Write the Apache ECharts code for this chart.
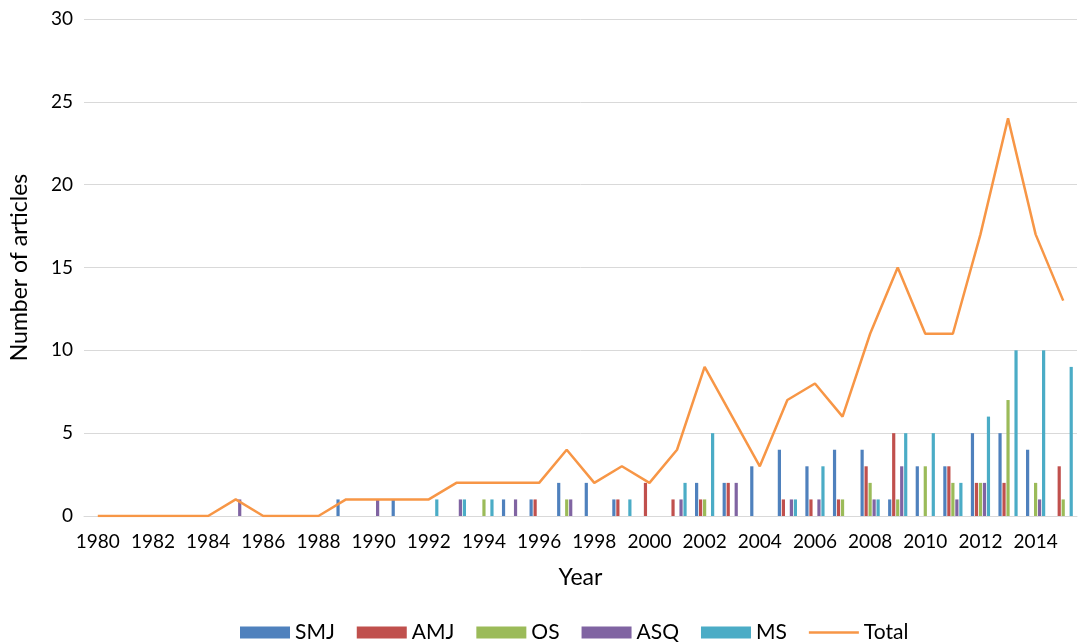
<!DOCTYPE html>
<html>
<head>
<meta charset="utf-8">
<title>Number of articles by year</title>
<script src="https://cdn.jsdelivr.net/npm/echarts@6/dist/echarts.min.js"></script>
<style>
  html, body { margin: 0; padding: 0; background: #fff; }
  #chart { width: 1079px; height: 643px; }
</style>
</head>
<body>
<div id="chart"></div>
<script>
// Publication years, 1980-2015
const years = [];
for (let y = 1980; y <= 2015; y++) years.push(String(y));

// Articles per journal and year
const smj = [0,0,0,0,0,0,0,0,0,1,0,1,0,0,0,1,1,2,2,1,0,0,2,2,3,4,3,4,4,1,3,3,5,5,4,0];
const amj = [0,0,0,0,0,0,0,0,0,0,0,0,0,0,0,0,1,0,0,1,2,1,1,2,0,1,1,1,3,5,0,3,2,2,0,3];
const os  = [0,0,0,0,0,0,0,0,0,0,0,0,0,0,1,0,0,1,0,0,0,0,1,0,0,0,0,1,2,1,3,2,2,7,2,1];
const asq = [0,0,0,0,0,1,0,0,0,0,1,0,0,1,0,1,0,1,0,0,0,1,0,2,0,1,1,0,1,3,0,1,2,0,1,0];
const ms  = [0,0,0,0,0,0,0,0,0,0,0,0,1,1,1,0,0,0,0,1,0,2,5,0,0,1,3,0,1,5,5,2,6,10,10,9];
const total = [0,0,0,0,0,1,0,0,0,1,1,1,1,2,2,2,2,4,2,3,2,4,9,6,3,7,8,6,11,15,11,11,17,24,17,13];

const FONT = 'Lato, "Open Sans", sans-serif';
const chart = echarts.init(document.getElementById('chart'), null, { renderer: 'canvas' });

function barSeries(name, data, color) {
  return {
    name: name,
    type: 'bar',
    data: data,
    barWidth: 3.2,
    barGap: '25%',
    itemStyle: { color: color },
    emphasis: { disabled: true }
  };
}

chart.setOption({
  animation: false,
  textStyle: { fontFamily: FONT },
  grid: { left: 83, right: 2, top: 19, bottom: 127, containLabel: false },
  legend: {
    top: 622,
    left: 240,
    itemWidth: 50,
    itemHeight: 12,
    itemGap: 22,
    padding: 0,
    symbolKeepAspect: true,
    textStyle: { fontFamily: FONT, fontSize: 21, color: '#000' },
    data: [
      { name: 'SMJ', icon: 'rect' },
      { name: 'AMJ', icon: 'rect' },
      { name: 'OS', icon: 'rect' },
      { name: 'ASQ', icon: 'rect' },
      { name: 'MS', icon: 'rect' },
      { name: 'Total', icon: 'path://M0,0 L50,0 L50,2.5 L0,2.5 Z' }
    ]
  },
  xAxis: {
    type: 'category',
    data: years,
    boundaryGap: true,
    name: 'Year',
    nameLocation: 'middle',
    nameGap: 50,
    nameTextStyle: { fontFamily: FONT, fontSize: 23, color: '#000' },
    axisLine: { lineStyle: { color: '#D9D9D9', width: 1 } },
    axisTick: { show: false },
    axisLabel: { interval: 1, margin: 16, fontFamily: FONT, fontSize: 19, color: '#000' },
    splitLine: { show: false }
  },
  yAxis: {
    type: 'value',
    min: 0,
    max: 30,
    interval: 5,
    name: 'Number of articles',
    nameLocation: 'middle',
    nameGap: 53,
    nameTextStyle: { fontFamily: FONT, fontSize: 23, color: '#000' },
    axisLine: { show: false },
    axisTick: { show: false },
    axisLabel: { margin: 11, fontFamily: FONT, fontSize: 19, color: '#000' },
    splitLine: { lineStyle: { color: '#D9D9D9', width: 1 } }
  },
  series: [
    barSeries('SMJ', smj, '#4F81BD'),
    barSeries('AMJ', amj, '#C0504D'),
    barSeries('OS', os, '#9BBB59'),
    barSeries('ASQ', asq, '#8064A2'),
    barSeries('MS', ms, '#4BACC6'),
    {
      name: 'Total',
      type: 'line',
      data: total,
      symbol: 'none',
      z: 5,
      lineStyle: { color: '#F79646', width: 2.5 },
      itemStyle: { color: '#F79646' },
      emphasis: { disabled: true }
    }
  ]
});
</script>
</body>
</html>
